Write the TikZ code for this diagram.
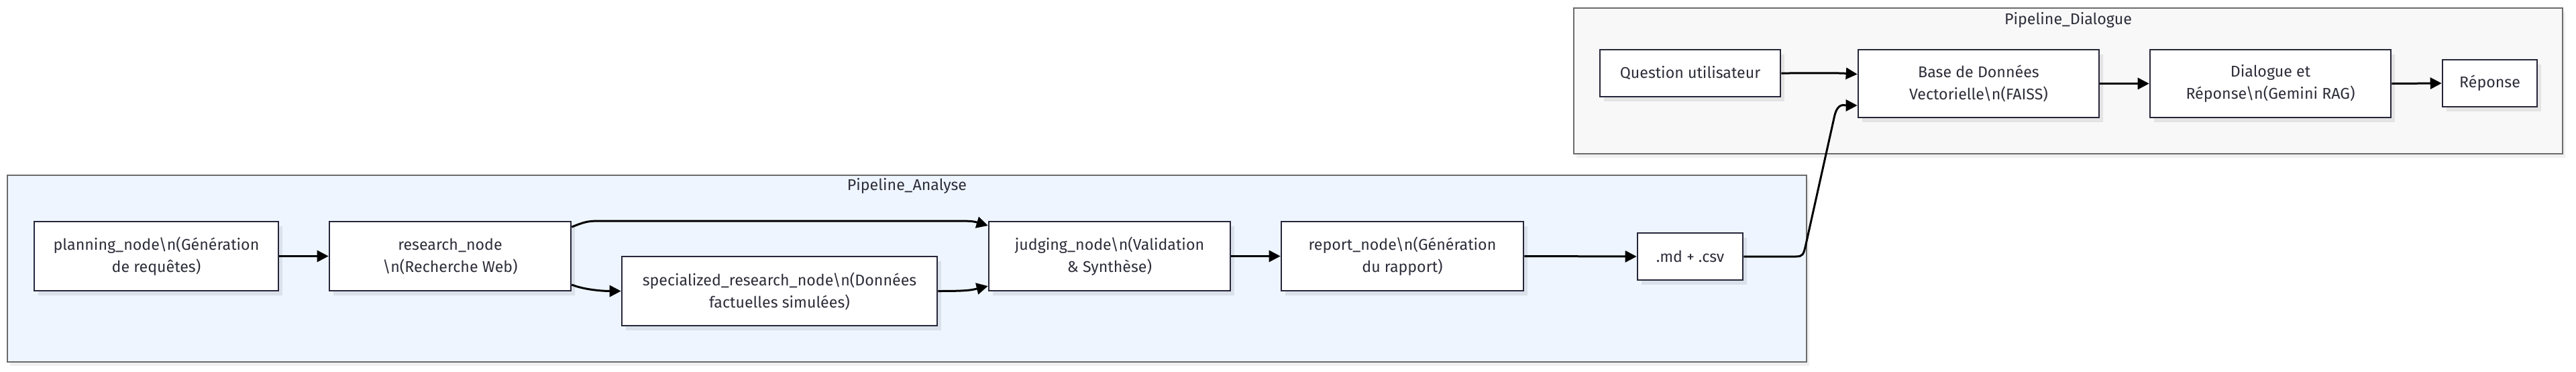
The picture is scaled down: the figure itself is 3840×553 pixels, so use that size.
\documentclass[tikz,border=0pt]{standalone}
\usepackage{fontspec}
\setmainfont{Fira Sans}
\usetikzlibrary{arrows.meta,calc,shadows}
\definecolor{nodeborder}{HTML}{26263A}
\definecolor{textc}{HTML}{2E2E3A}
\definecolor{clusterborder}{HTML}{6B6B6B}
\definecolor{analysefill}{HTML}{EEF5FE}
\definecolor{dialfill}{HTML}{F8F8F8}
\begin{document}
\begin{tikzpicture}[x=0.5pt,y=-0.5pt,
  box/.style={draw=nodeborder, line width=1.3pt, fill=white, align=center, inner sep=0pt,
    font=\fontsize{11.6}{16.5}\selectfont, text=textc,
    drop shadow={shadow xshift=3pt, shadow yshift=-3.5pt, fill=black, opacity=0.08}},
  cluster/.style={draw=clusterborder, line width=0.7pt, inner sep=0pt,
    drop shadow={shadow xshift=2pt, shadow yshift=-3pt, fill=black, opacity=0.06}},
  ctitle/.style={font=\fontsize{11.6}{16.5}\selectfont, text=textc, inner sep=0pt},
  conn/.style={line width=1.5pt, draw=black, -{Triangle[length=8.5pt,width=8.5pt]}}
]
\useasboundingbox (0,0) rectangle (3840,553);

% clusters
\node[cluster, fill=analysefill, minimum width=1341pt, minimum height=139pt] (analyse) at (1352,400) {};
\node[ctitle] (analyseT) at (1352,277) {Pipeline\_Analyse};
\node[cluster, fill=dialfill, minimum width=737pt, minimum height=108.5pt] (dial) at (3083,120.5) {};
\node[ctitle] (dialT) at (3083,30) {Pipeline\_Dialogue};

% nodes
\node[box, minimum width=182pt, minimum height=51.5pt] (planning) at (233,381.5)
  {planning\_node\textbackslash n(Génération\\de requêtes)};
\node[box, minimum width=180pt, minimum height=51.5pt] (research) at (671,381.5)
  {research\_node\\\textbackslash n(Recherche Web)};
\node[box, minimum width=235pt, minimum height=51.5pt] (spec) at (1162,433.5)
  {specialized\_research\_node\textbackslash n(Données\\factuelles simulées)};
\node[box, minimum width=180pt, minimum height=51.5pt] (judging) at (1654,381.5)
  {judging\_node\textbackslash n(Validation\\\& Synthèse)};
\node[box, minimum width=180.5pt, minimum height=51.5pt] (report) at (2090.5,381.5)
  {report\_node\textbackslash n(Génération\\du rapport)};
\node[box, minimum width=78.5pt, minimum height=35pt] (md) at (2519.5,382) {.md + .csv};

\node[box, minimum width=134.5pt, minimum height=35pt] (question) at (2519.5,109) {Question utilisateur};
\node[box, minimum width=179.5pt, minimum height=50.5pt] (base) at (2949.5,124.5)
  {Base de Données\\Vectorielle\textbackslash n(FAISS)};
\node[box, minimum width=179.5pt, minimum height=50.5pt] (dialogue) at (3384.5,124.5)
  {Dialogue et\\Réponse\textbackslash n(Gemini RAG)};
\node[box, minimum width=70.5pt, minimum height=35pt] (reponse) at (3711.5,124) {Réponse};

% connectors
\draw[conn] (planning.east) -- (research.west);
\draw[conn] ($(research.east)+(0,-43.5)$) .. controls +(20,-8) and +(-20,0) .. ($(research.east)+(44,-52.5)$)
  -- ($(judging.west)+(-44,-52.5)$) .. controls +(20,0) and +(-20,-6) .. ($(judging.west)+(0,-45.5)$);
\draw[conn] ($(research.east)+(0,42.5)$) .. controls +(20,8) and +(-25,0) .. (spec.west);
\draw[conn] (spec.east) .. controls +(45,0) and +(-25,6) .. ($(judging.west)+(0,44.5)$);
\draw[conn] (judging.east) -- (report.west);
\draw[conn] (report.east) -- (md.west);
\draw[conn] (md.east) -- ($(md.east)+(78,0)$) .. controls +(10,0) and +(-3,12) .. ($(md.east)+(92,-15)$)
  -- ($(base.west)+(-34,48)$) .. controls +(5,-20) and +(-20,0) .. ($(base.west)+(0,32.5)$);
\draw[conn] (question.east) .. controls +(60,0) and +(-30,-2) .. ($(base.west)+(0,-14)$);
\draw[conn] (base.east) -- (dialogue.west);
\draw[conn] (dialogue.east) -- (reponse.west);
\end{tikzpicture}
\end{document}
